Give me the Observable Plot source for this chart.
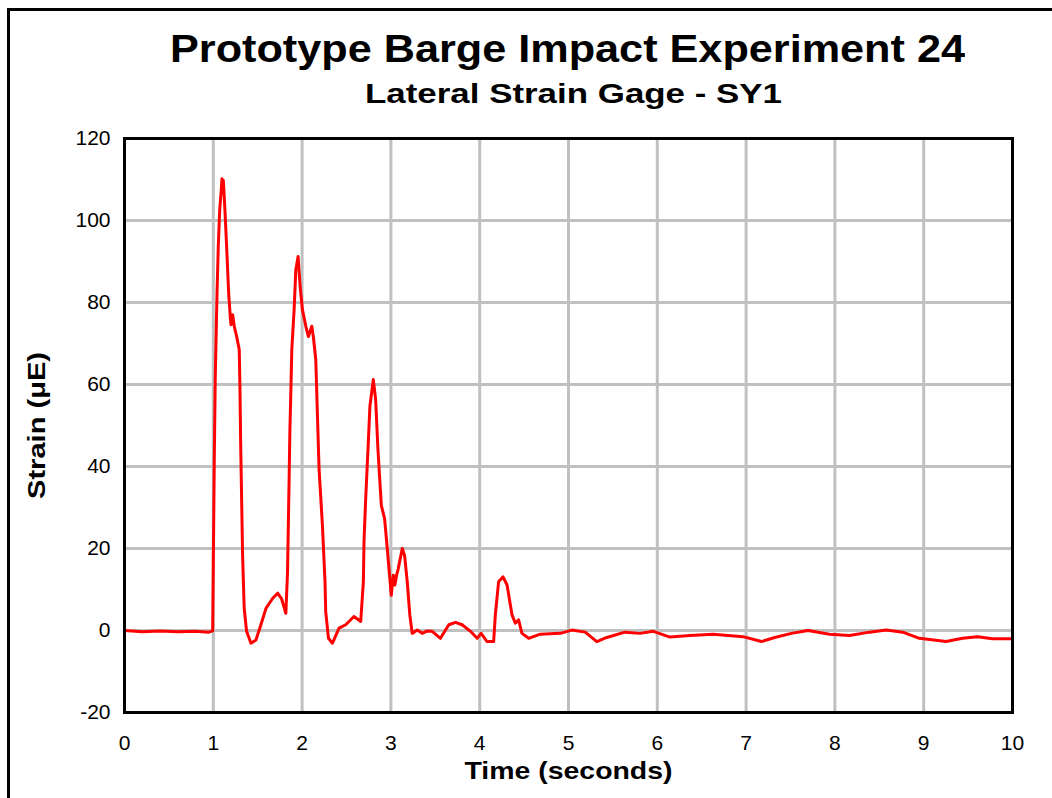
<!DOCTYPE html>
<html>
<head>
<meta charset="utf-8">
<script src="https://cdn.jsdelivr.net/npm/d3@7"></script>
<script src="https://cdn.jsdelivr.net/npm/@observablehq/plot@0.6"></script>
<style>
  body { margin: 0; background: #fff; }
  #wrap { position: relative; width: 1052px; height: 798px; overflow: hidden; font-family: "Liberation Sans", Arial, sans-serif; background: #fff; }
  #border { position: absolute; left: 7px; top: 8px; right: -10px; bottom: -10px; border-left: 3px solid #000; border-top: 3px solid #000; pointer-events: none; }
  #head { position: relative; height: 120px; }
  .t { position: absolute; white-space: nowrap; font-weight: bold; color: #000; line-height: 1; transform-origin: 0 0; display: inline-block; }
  #chart svg { display: block; }
</style>
</head>
<body>
<div id="wrap">
  <div id="border"></div>
  <div id="head"></div>
  <div id="chart"></div>
</div>
<script>
// ---- Data ----
const titleText = "Prototype Barge Impact Experiment 24";
const subtitleText = "Lateral Strain Gage - SY1";
const xLabel = "Time (seconds)";
const yLabel = "Strain (μE)";
const xTicks = [0, 1, 2, 3, 4, 5, 6, 7, 8, 9, 10];
const yTicks = [-20, 0, 20, 40, 60, 80, 100, 120];

const times = [
  0, 0.2, 0.4, 0.6, 0.8, 0.95, 0.993,
  1.000, 1.011, 1.022, 1.034, 1.042, 1.056, 1.072, 1.087, 1.098, 1.105, 1.113,
  1.131, 1.150, 1.173, 1.191, 1.199, 1.218, 1.236, 1.263, 1.292, 1.300, 1.308,
  1.319, 1.330, 1.348, 1.375, 1.424, 1.480, 1.536, 1.593, 1.667, 1.724, 1.768,
  1.817, 1.836, 1.843, 1.854, 1.862, 1.873, 1.884, 1.910, 1.929, 1.955, 1.978,
  2.004, 2.042, 2.071, 2.109, 2.128, 2.154, 2.173, 2.191, 2.229, 2.258, 2.266,
  2.297, 2.342, 2.416, 2.491, 2.584, 2.660, 2.690, 2.697, 2.716, 2.742, 2.764,
  2.802, 2.828, 2.854, 2.892, 2.929, 2.959, 3.004, 3.027, 3.045, 3.064, 3.083,
  3.128, 3.154, 3.184, 3.213, 3.240, 3.297, 3.353, 3.409, 3.465, 3.558, 3.652,
  3.727, 3.802, 3.896, 3.971, 4.016, 4.083, 4.157, 4.176, 4.213, 4.263, 4.308,
  4.364, 4.401, 4.438, 4.476, 4.551, 4.682, 4.907, 5.038, 5.188, 5.319, 5.431,
  5.636, 5.805, 5.955, 6.143, 6.367, 6.629, 6.966, 7.173, 7.322, 7.510, 7.697,
  7.940, 8.165, 8.390, 8.578, 8.764, 8.952, 9.252, 9.438, 9.607, 9.775, 9.963, 10
];
const strains = [
  0.0, -0.3, -0.1, -0.3, -0.2, -0.4, -0.1,
  15.9, 41.4, 61.7, 74.2, 82.3, 93.6, 102.5, 106.6, 110.2, 107.4, 109.8,
  102.5, 93.6, 82.3, 76.6, 74.6, 77.0, 74.2, 71.7, 68.5, 59.6, 45.9,
  32.1, 18.3, 5.4, -0.2, -3.1, -2.3, 1.4, 5.4, 7.8, 9.1, 7.8,
  4.2, 14.3, 23.2, 37.0, 48.3, 58.0, 68.5, 78.2, 87.9, 91.2, 83.9,
  78.2, 74.2, 71.7, 74.2, 71.4, 66.1, 52.3, 39.4, 25.6, 11.9, 4.6,
  -1.9, -3.1, 0.6, 1.4, 3.4, 2.2, 11.9, 21.6, 32.1, 44.2, 54.8,
  61.2, 56.4, 44.2, 30.5, 27.3, 20.0, 8.6, 13.5, 11.1, 13.5, 15.1,
  20.0, 18.3, 11.9, 3.8, -0.7, 0.1, -0.7, -0.1, -0.2, -1.9, 1.4,
  2.0, 1.4, -0.2, -1.9, -0.7, -2.7, -2.7, 3.8, 11.9, 13.1, 11.1,
  3.8, 1.8, 2.6, -0.7, -1.9, -0.9, -0.7, 0.1, -0.4, -2.7, -1.7,
  -0.4, -0.7, -0.2, -1.6, -1.2, -0.9, -1.5, -2.7, -1.7, -0.7, 0.0,
  -0.9, -1.2, -0.4, 0.1, -0.4, -1.9, -2.7, -1.9, -1.5, -2.0, -2.0, -2.0
];

const data = times.map((t, i) => ({t, v: strains[i]}));

// ---- Titles (HTML, above the SVG) ----
const head = document.getElementById("head");
function addTitle(text, fontSize, baseline, centerX, targetWidth) {
  const s = document.createElement("span");
  s.className = "t";
  s.textContent = text;
  s.style.fontSize = fontSize + "px";
  head.appendChild(s);
  const w = s.getBoundingClientRect().width;
  const k = targetWidth / w;
  s.style.transform = `scaleX(${k})`;
  s.style.left = (centerX - targetWidth / 2) + "px";
  s.style.top = (baseline - 0.8465 * fontSize) + "px";
}
addTitle(titleText, 38, 62, 567.5, 795);
addTitle(subtitleText, 28, 103.3, 573.5, 417);

// ---- Chart ----
const plot = Plot.plot({
  width: 1052,
  height: 678,
  marginTop: 18,
  marginBottom: 86,
  marginLeft: 124,
  marginRight: 40,
  style: {fontFamily: '"Liberation Sans", Arial, sans-serif', fontSize: "21px", color: "#000", background: "transparent"},
  x: {domain: [0, 10]},
  y: {domain: [-20, 120]},
  marks: [
    Plot.ruleX(xTicks, {stroke: "#c0c0c0", strokeWidth: 3}),
    Plot.ruleY(yTicks, {stroke: "#c0c0c0", strokeWidth: 3}),
    Plot.line(data, {x: "t", y: "v", stroke: "#ff0000", strokeWidth: 3, strokeLinejoin: "round"}),
    Plot.frame({stroke: "#000", strokeWidth: 3}),
    Plot.axisX({ticks: xTicks, tickSize: 0, tickPadding: 23, label: null, fontSize: 21, tickFormat: d => String(d)}),
    Plot.axisY({ticks: yTicks, tickSize: 0, tickPadding: 14, label: null, fontSize: 21, tickFormat: d => String(d)}),
    Plot.text([xLabel], {frameAnchor: "bottom", lineAnchor: "middle", textAnchor: "middle", dy: 58.6, fontSize: 24, fontWeight: "bold", text: d => d, fill: "#000"}),
    Plot.text([yLabel], {frameAnchor: "left", lineAnchor: "middle", textAnchor: "middle", dx: -87.4, rotate: -90, fontSize: 24, fontWeight: "bold", text: d => d, fill: "#000"})
  ]
});
document.getElementById("chart").appendChild(plot);

d3.select(plot).selectAll("text").each(function() {
  if (this.textContent === xLabel) {
    this.setAttribute("textLength", 208);
    this.setAttribute("lengthAdjust", "spacingAndGlyphs");
  } else if (this.textContent === yLabel) {
    this.setAttribute("textLength", 147);
    this.setAttribute("lengthAdjust", "spacingAndGlyphs");
  }
});
</script>
</body>
</html>
